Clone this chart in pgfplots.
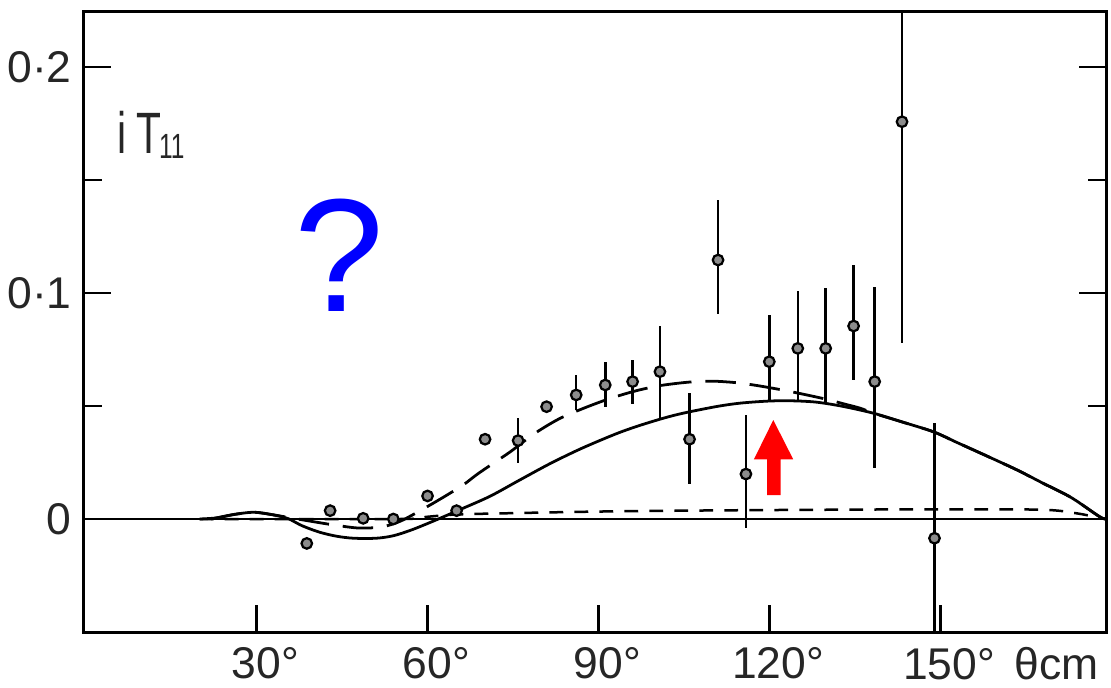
\documentclass[border=0pt]{standalone}
\usepackage{fontspec}
\setmainfont{Liberation Sans}
\usepackage{graphicx}
\usepackage{pgfplots}
\usepackage{pgfplotstable}
\pgfplotsset{compat=1.18}

\pgfplotstableread{
x y ep em
38.8 -0.0108 0 0
42.9 0.0037 0 0
48.7 0.0003 0 0
54.0 0.0 0 0
60.0 0.0102 0 0
65.1 0.0037 0 0
70.1 0.0353 0 0
75.9 0.0347 0.0100 0.0099
80.9 0.0497 0 0
86.1 0.0549 0.0088 0.0067
91.2 0.0593 0.0100 0.0096
96.0 0.0608 0.0096 0.0099
100.8 0.0652 0.0202 0.0211
106.0 0.0353 0.0206 0.0198
111.0 0.1146 0.0266 0.0240
115.9 0.0199 0.0261 0.0240
120.0 0.0696 0.0207 0.0177
125.0 0.0755 0.0255 0.0236
129.9 0.0755 0.0266 0.0236
134.8 0.0854 0.0270 0.0239
138.5 0.0608 0.0417 0.0384
143.3 0.1758 0.1000 0.0981
149.0 -0.0085 0.0508 0.0600
}\datapts

\pgfplotstableread{
x y
20 0
23 0.0005
26 0.002
29.5 0.003
33 0.0018
35.5 0.0002
38 -0.003
41 -0.0058
44 -0.0076
47 -0.0085
51 -0.0085
54 -0.0074
57 -0.005
60 -0.002
63 0.0012
66 0.0045
71 0.0101
76 0.0170
81.5 0.0245
87 0.0312
93 0.0376
97 0.0412
101.4 0.0446
105 0.0469
110.8 0.0498
115 0.0513
120 0.0522
124 0.0523
128.3 0.0517
133 0.0498
138.3 0.0468
143 0.0432
148.8 0.0386
153 0.0338
158 0.0281
163.5 0.0217
168 0.0159
173 0.0095
178 0.001
179.2 0
}\solidcurve

\pgfplotstableread{
x y
22 0
26 0.002
29.5 0.003
33 0.0018
36 0.0005
40 -0.0012
44 -0.0028
48 -0.004
52 -0.0035
55 -0.0012
57.5 0.002
61 0.007
64 0.0115
66.5 0.0155
69 0.0203
74.5 0.0297
78.6 0.0375
83 0.0442
87.4 0.049
92 0.0533
96.7 0.0568
101 0.0591
106 0.0606
110 0.061
114.3 0.0603
118 0.059
122.5 0.057
126 0.0552
130 0.053
133 0.051
136 0.049
138.3 0.0468
143 0.0432
148.8 0.0386
153 0.0338
158 0.0281
163.5 0.0217
168 0.0159
173 0.0095
178 0.001
179.2 0
}\longdash

\pgfplotstableread{
x y
20 0
55 0
60 0.001
65 0.002
75 0.0026
90 0.0033
110 0.0038
130 0.0041
150 0.0043
168 0.0041
174 0.0025
178 0.0005
179.2 0
}\shortdash

\pgfplotstableread{
x y
-0.4 0
179.2 0
}\zeroline

\begin{document}
\begin{tikzpicture}
\begin{axis}[
  width=368.3pt, height=223.5pt, scale only axis,
  xmin=-0.4, xmax=179.2, ymin=-0.0502, ymax=0.2245,
  axis line style={line width=1.1pt, black},
  xtick={30,60,90,120,150},
  xticklabels={30\rlap{°},60\rlap{°},90\rlap{°},120\rlap{°},150\rlap{°\hspace{7pt}θcm}},
  xtick pos=left,
  ytick={0,0.1,0.2},
  yticklabels={0,0·1,0·2},
  minor ytick={0.05,0.15},
  ytick pos=both,
  scaled y ticks=false,
  tick align=inside,
  major tick length=10pt,
  minor tick length=6.6pt,
  every tick/.style={black, line width=1pt},
  tick label style={font=\fontsize{16}{19}\selectfont, text=black!85},
  xticklabel style={inner sep=0pt, yshift=-5.1pt},
  yticklabel style={inner sep=0pt, xshift=-4.1pt},
]
\coordinate (SW) at (rel axis cs:0,0);
\coordinate (NE) at (rel axis cs:1,1);

\addplot[line width=0.9pt, black] table[x=x,y=y] {\zeroline};
\addplot[line width=0.9pt, black, dash pattern=on 5pt off 4pt, smooth] table[x=x,y=y] {\shortdash};
\addplot[line width=1pt, black, dash pattern=on 11pt off 5pt, smooth] table[x=x,y=y] {\longdash};
\addplot[line width=1pt, black, smooth] table[x=x,y=y] {\solidcurve};

\addplot[only marks, mark=*, mark size=1.9pt,
  mark options={fill=black!45, draw=black, line width=0.8pt},
  error bars/.cd, y dir=both, y explicit, error mark=none,
  error bar style={line width=0.9pt, black}]
  table[x=x, y=y, y error plus=ep, y error minus=em] {\datapts};

\node[anchor=base west, inner sep=0pt, text=black!85] at (axis cs:5.5,0.1618)
  {\scalebox{0.7}[1]{\fontsize{21}{24}\selectfont i\hspace{5pt}T\hspace{-1.2pt}\raisebox{-1.8pt}{\fontsize{12.6}{14}\selectfont 11}}};

\node[anchor=base, inner sep=0pt, text=blue] at (axis cs:44.45,0.0916)
  {\fontsize{58}{60}\selectfont ?};

\fill[red] (axis cs:120.7,0.0438) -- (axis cs:124.2,0.0264) -- (axis cs:122.0,0.0264)
  -- (axis cs:122.0,0.0106) -- (axis cs:119.6,0.0106) -- (axis cs:119.6,0.0264)
  -- (axis cs:117.3,0.0264) -- cycle;
\end{axis}
\pgfresetboundingbox
\path[use as bounding box] ([shift={(-30.06pt,-19.98pt)}]SW) rectangle ([shift={(1.62pt,4.2pt)}]NE);
\end{tikzpicture}
\end{document}
